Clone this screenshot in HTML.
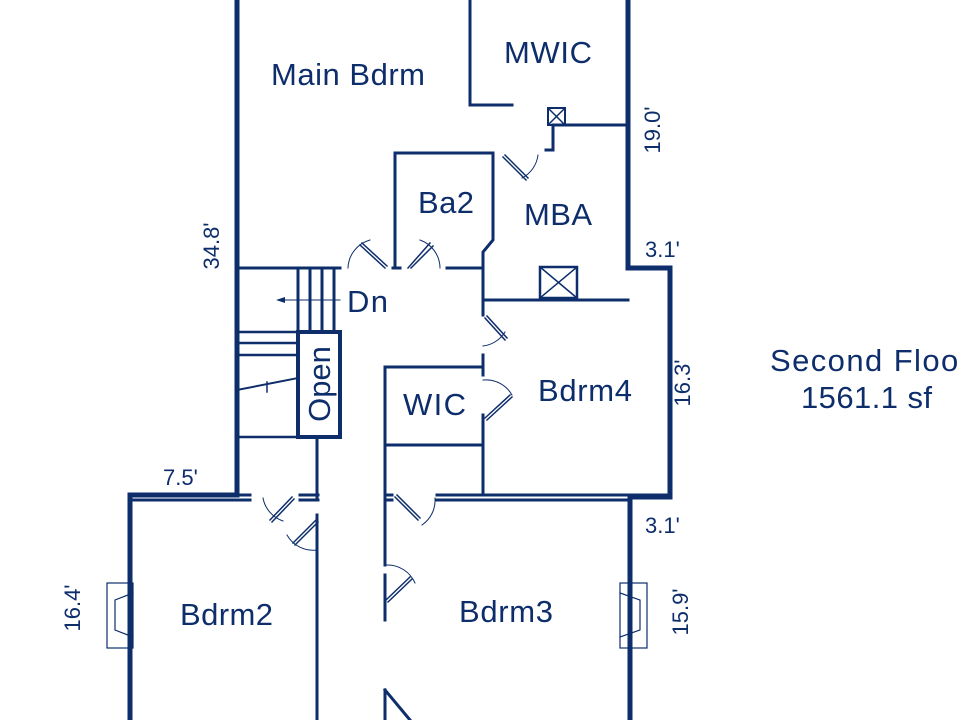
<!DOCTYPE html>
<html><head><style>body{margin:0;background:#fff}svg{display:block}text{font-family:"Liberation Sans",sans-serif;fill:#0d2d6b}</style></head><body>
<svg width="960" height="720" viewBox="0 0 960 720" xmlns="http://www.w3.org/2000/svg">
<g stroke="#0d2d6b" fill="none" stroke-linecap="square">
<g stroke-width="5">
<path d="M237 0V495H130V720"/>
<path d="M628 0V268H670V497H630V720"/>
<path d="M298 332H340V437H298Z" stroke-width="4"/>
</g>
<g stroke-width="3">
<path d="M470 0V105H512"/>
<path d="M628 125H553V150H546"/>
<rect x="548" y="108" width="17" height="17" stroke-width="2"/>
<path d="M548 108L565 125M565 108L548 125" stroke-width="1.5"/>
<path d="M395 268V153H493V240L483 252V300H628"/>
<path d="M237 268H340M393 268H400M447 268H483"/>
<rect x="540" y="267" width="37" height="31" stroke-width="2.5"/>
<path d="M540 267L577 298M577 267L540 298" stroke-width="1.5"/>
<path d="M298 268V332M310 268V332M322 268V332M334 268V332"/>
<path d="M237 332H298M237 343H298M237 355H298M237 437H298" stroke-width="2.5"/>
<path d="M237 390L298 378" stroke-width="2"/>
<path d="M267 382L267 392" stroke-width="1.5"/>
<path d="M317 437V497M317 515V720"/>
<path d="M483 300V315M483 355V375M483 415V495"/>
<path d="M385 720V690M385 690L410 720M385 620V575M385 565V367H483M385 445H483"/>
<path d="M437 495H670M437 500H630M130 500H250M237 495H250M300 495H318M300 500H318M385 495H392M385 500H392"/>
</g>
<g stroke-width="1">
<path d="M348 268A30 30 0 0 1 370 240"/><path d="M360 245L385 268M362 243L387 266" stroke-width="1.5"/>
<path d="M440 268A30 30 0 0 0 420 240"/><path d="M408 268L430 243M411 268L433 246" stroke-width="1.5"/>
<path d="M538 155A30 30 0 0 1 522 178"/><path d="M505 155L528 178M503 157L526 180" stroke-width="1.5"/>
<path d="M483 346A30 30 0 0 0 505 332"/><path d="M485 318L505 340M487 316L507 338" stroke-width="1.5"/>
<path d="M483 380A30 30 0 0 1 512 395"/><path d="M485 418L510 395M487 420L512 397" stroke-width="1.5"/>
<path d="M263 498A30 30 0 0 0 283 521"/><path d="M270 520L292 497M272 522L294 499" stroke-width="1.5"/>
<path d="M287 535A30 30 0 0 0 317 550"/><path d="M293 543L316 520M295 545L318 522" stroke-width="1.5"/>
<path d="M435 498A30 30 0 0 1 422 525"/><path d="M395 497L418 520M397 495L420 518" stroke-width="1.5"/>
<path d="M387 565A30 30 0 0 1 415 583"/><path d="M386 600L410 577M388 602L412 579" stroke-width="1.5"/>
</g>
<g stroke-width="1.2">
<rect x="107" y="583" width="26" height="65"/><path d="M133 593L115 600V630L133 637"/>
<rect x="620" y="583" width="27" height="65"/><path d="M620 593L640 600V630L620 637"/>
</g>
<path d="M285 300H340" stroke-width="1"/>
</g>
<path d="M276 300L285 297V303Z" fill="#0d2d6b"/>
<g font-size="31">
<text x="271" y="85" textLength="154">Main Bdrm</text>
<text x="504" y="63" textLength="88">MWIC</text>
<text x="418" y="213" textLength="56">Ba2</text>
<text x="524" y="225" textLength="68">MBA</text>
<text x="347" y="312" textLength="41">Dn</text>
<text x="538" y="401" textLength="94">Bdrm4</text>
<text x="403" y="415" textLength="63">WIC</text>
<text x="180" y="625" textLength="93">Bdrm2</text>
<text x="459" y="622" textLength="94">Bdrm3</text>
<text x="330" y="384" text-anchor="middle" transform="rotate(-90 330 384)">Open</text>
<text x="770" y="371" textLength="200">Second Floor</text>
<text x="801" y="408" textLength="131">1561.1 sf</text>
</g>
<g font-size="22">
<text x="219" y="246" text-anchor="middle" transform="rotate(-90 219 246)">34.8'</text>
<text x="660" y="130" text-anchor="middle" transform="rotate(-90 660 130)">19.0'</text>
<text x="645" y="257">3.1'</text>
<text x="690" y="383" text-anchor="middle" transform="rotate(-90 690 383)">16.3'</text>
<text x="163" y="485">7.5'</text>
<text x="645" y="533">3.1'</text>
<text x="80" y="608" text-anchor="middle" transform="rotate(-90 80 608)">16.4'</text>
<text x="688" y="612" text-anchor="middle" transform="rotate(-90 688 612)">15.9'</text>
</g>
</svg>
</body></html>
